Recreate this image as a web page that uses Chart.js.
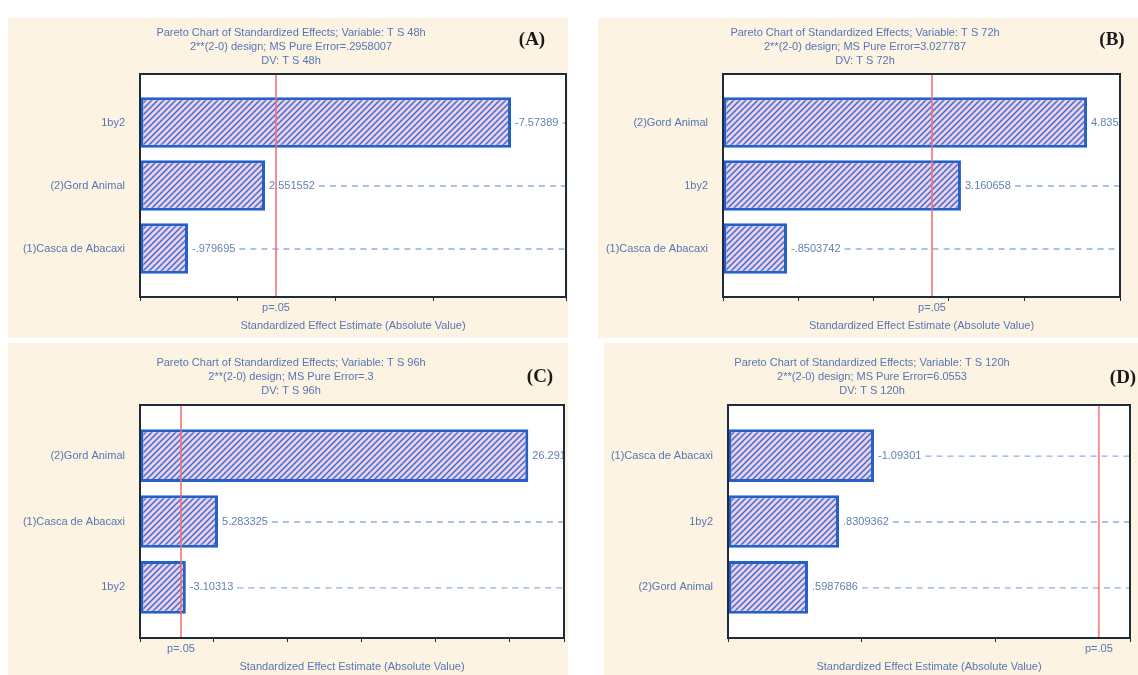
<!DOCTYPE html>
<html lang="pt">
<head>
<meta charset="UTF-8">
<title>Pareto Charts of Standardized Effects</title>
<style>
    body {
        margin: 0;
        background: #ffffff;
        width: 1138px;
        height: 675px;
        position: relative;
        overflow: hidden;
        font-family: "Liberation Sans", Arial, sans-serif;
    }
    .panel {
        position: absolute;
        background: #fcf3e3;
    }
    canvas {
        position: absolute;
    }
</style>
</head>
<body>
    <div class="panel" style="left:8px; top:18px; width:560px; height:320px;"></div>
    <div class="panel" style="left:598px; top:18px; width:540px; height:320px;"></div>
    <div class="panel" style="left:8px; top:343px; width:560px; height:332px;"></div>
    <div class="panel" style="left:604px; top:343px; width:534px; height:332px;"></div>

    <canvas id="chartA" width="570" height="338" style="left:0; top:0;"></canvas>
    <canvas id="chartB" width="568" height="338" style="left:570px; top:0;"></canvas>
    <canvas id="chartC" width="570" height="337" style="left:0; top:338px;"></canvas>
    <canvas id="chartD" width="568" height="337" style="left:570px; top:338px;"></canvas>

<script src="https://cdn.jsdelivr.net/npm/chart.js"></script>
<script>
    // effects per response (T S 48h, 72h, 96h, 120h), sorted as plotted
    const labelsA = ['1by2', '(2)Gord Animal', '(1)Casca de Abacaxi'];
    const effectsA = [-7.57389, 2.551552, -.979695];
    const titleA = ['Pareto Chart of Standardized Effects; Variable: T S 48h',
                    '2**(2-0) design; MS Pure Error=.2958007', 'DV: T S 48h'];

    const labelsB = ['(2)Gord Animal', '1by2', '(1)Casca de Abacaxi'];
    const effectsB = [4.835252, 3.160658, -.8503742];
    const titleB = ['Pareto Chart of Standardized Effects; Variable: T S 72h',
                    '2**(2-0) design; MS Pure Error=3.027787', 'DV: T S 72h'];

    const labelsC = ['(2)Gord Animal', '(1)Casca de Abacaxi', '1by2'];
    const effectsC = [26.2912, 5.283325, -3.10313];
    const titleC = ['Pareto Chart of Standardized Effects; Variable: T S 96h',
                    '2**(2-0) design; MS Pure Error=.3', 'DV: T S 96h'];

    const labelsD = ['(1)Casca de Abacaxi', '1by2', '(2)Gord Animal'];
    const effectsD = [-1.09301, .8309362, .5987686];
    const titleD = ['Pareto Chart of Standardized Effects; Variable: T S 120h',
                    '2**(2-0) design; MS Pure Error=6.0553', 'DV: T S 120h'];

    const critT = 2.776;          // t(.975, 4) -> p=.05 line
    const xMax = [8.696, 5.273, 28.71, 3.009];
    const xStep = [2, 1, 5, 1];
    const xTitle = 'Standardized Effect Estimate (Absolute Value)';

    const textColor = '#5676b4';
    const font = '"Liberation Sans", Arial, sans-serif';

    // diagonal hatch used by statistica-style bars
    function makeHatch() {
        const c = document.createElement('canvas');
        c.width = 6;
        c.height = 6;
        const g = c.getContext('2d');
        g.fillStyle = '#efcfe8';
        g.fillRect(0, 0, 6, 6);
        g.strokeStyle = '#3a70d0';
        g.lineWidth = 1.5;
        g.beginPath();
        g.moveTo(-1, 7); g.lineTo(7, -1);
        g.moveTo(-1, 1); g.lineTo(1, -1);
        g.moveTo(5, 7); g.lineTo(7, 5);
        g.stroke();
        return g.createPattern(c, 'repeat');
    }
    const hatch = makeHatch();

    const paretoDecor = {
        id: 'paretoDecor',
        beforeDraw(chart) {
            const a = chart.chartArea, ctx = chart.ctx;
            ctx.save();
            ctx.fillStyle = '#ffffff';
            ctx.fillRect(a.left, a.top, a.right - a.left, a.bottom - a.top);
            ctx.restore();
        },
        afterDatasetsDraw(chart, args, opts) {
            const a = chart.chartArea, ctx = chart.ctx;
            const meta = chart.getDatasetMeta(0);
            ctx.save();
            ctx.beginPath();
            ctx.rect(a.left, a.top, a.right - a.left, a.bottom - a.top);
            ctx.clip();
            ctx.font = '11px ' + font;
            ctx.textBaseline = 'middle';
            meta.data.forEach((bar, i) => {
                const txt = String(opts.effects[i]).replace(/^(-?)0\./, '$1.');
                const tx = bar.x + 4;
                ctx.fillStyle = '#6480b4';
                ctx.textAlign = 'left';
                ctx.fillText(txt, tx, bar.y);
                const start = tx + ctx.measureText(txt).width + 4;
                ctx.strokeStyle = '#8eaedc';
                ctx.lineWidth = 1.3;
                ctx.setLineDash([6, 5]);
                ctx.beginPath();
                ctx.moveTo(start, bar.y + 0.5);
                ctx.lineTo(a.right, bar.y + 0.5);
                ctx.stroke();
            });
            ctx.setLineDash([]);
            // p=.05 reference line
            const px = chart.scales.x.getPixelForValue(critT);
            ctx.strokeStyle = 'rgba(240,110,110,0.75)';
            ctx.lineWidth = 2;
            ctx.beginPath();
            ctx.moveTo(px, a.top);
            ctx.lineTo(px, a.bottom);
            ctx.stroke();
            ctx.restore();

            // plot frame
            ctx.save();
            ctx.strokeStyle = '#1d2b3a';
            ctx.lineWidth = 2;
            ctx.strokeRect(a.left, a.top, a.right - a.left, a.bottom - a.top);
            ctx.restore();
        },
        afterDraw(chart, args, opts) {
            const a = chart.chartArea, ctx = chart.ctx;
            ctx.save();
            ctx.fillStyle = textColor;
            ctx.font = '11px ' + font;
            ctx.textAlign = 'center';
            ctx.textBaseline = 'middle';
            opts.title.forEach((line, i) => {
                ctx.fillText(line, opts.titleX, opts.titleY + i * 14);
            });
            const px = chart.scales.x.getPixelForValue(critT);
            ctx.fillText('p=.05', px, a.bottom + 11);
            ctx.fillText(xTitle, (a.left + a.right) / 2, a.bottom + opts.xTitleGap);
            ctx.fillStyle = '#1a1a1a';
            ctx.font = 'bold 19px "Liberation Serif", "Times New Roman", serif';
            ctx.fillText(opts.letter, opts.letterX, opts.letterY);
            ctx.restore();
        }
    };

    function paretoChart(id, labels, effects, title, cfg) {
        const ctx = document.getElementById(id).getContext('2d');
        return new Chart(ctx, {
            type: 'bar',
            data: {
                datasets: [{
                    data: effects.map((v, i) => ({ x: Math.abs(v), y: i })),
                    backgroundColor: hatch,
                    borderColor: '#2560c8',
                    borderWidth: 3,
                    borderSkipped: false,
                    categoryPercentage: 1,
                    barPercentage: 0.8
                }]
            },
            options: {
                indexAxis: 'y',
                responsive: false,
                animation: false,
                events: [],
                layout: { padding: { top: cfg.top, right: cfg.right, left: 0, bottom: 0 } },
                plugins: {
                    legend: { display: false },
                    tooltip: { enabled: false },
                    paretoDecor: {
                        effects: effects,
                        title: title,
                        titleX: cfg.titleX,
                        titleY: cfg.titleY,
                        letter: cfg.letter,
                        letterX: cfg.letterX,
                        letterY: cfg.letterY,
                        xTitleGap: cfg.xTitleGap
                    }
                },
                scales: {
                    x: {
                        type: 'linear',
                        min: 0,
                        max: cfg.xMax,
                        ticks: { display: false, stepSize: cfg.step },
                        grid: { drawOnChartArea: false, drawTicks: true, tickLength: 4, color: '#1d2b3a' },
                        border: { display: false },
                        afterFit(s) { s.height = cfg.bottom; }
                    },
                    y: {
                        type: 'linear',
                        offset: false,
                        min: -0.77,
                        max: 2.77,
                        reverse: true,
                        afterBuildTicks(s) { s.ticks = labels.map((l, i) => ({ value: i })); },
                        ticks: {
                            callback: v => labels[Math.round(v)],
                            color: textColor,
                            font: { family: font, size: 11 },
                            padding: 7
                        },
                        grid: { display: false, offset: false },
                        border: { display: false },
                        afterFit(s) { s.width = cfg.left; }
                    }
                }
            },
            plugins: [paretoDecor]
        });
    }

    paretoChart('chartA', labelsA, effectsA, titleA, {
        top: 74, right: 4, left: 140, bottom: 41, xMax: xMax[0], step: xStep[0],
        titleX: 291, titleY: 33, letter: '(A)', letterX: 532, letterY: 40, xTitleGap: 29
    });
    paretoChart('chartB', labelsB, effectsB, titleB, {
        top: 74, right: 18, left: 153, bottom: 41, xMax: xMax[1], step: xStep[1],
        titleX: 295, titleY: 33, letter: '(B)', letterX: 542, letterY: 40, xTitleGap: 29
    });
    paretoChart('chartC', labelsC, effectsC, titleC, {
        top: 67, right: 6, left: 140, bottom: 37, xMax: xMax[2], step: xStep[2],
        titleX: 291, titleY: 25, letter: '(C)', letterX: 540, letterY: 39, xTitleGap: 29
    });
    paretoChart('chartD', labelsD, effectsD, titleD, {
        top: 67, right: 8, left: 158, bottom: 37, xMax: xMax[3], step: xStep[3],
        titleX: 302, titleY: 25, letter: '(D)', letterX: 553, letterY: 40, xTitleGap: 29
    });
</script>
</body>
</html>
